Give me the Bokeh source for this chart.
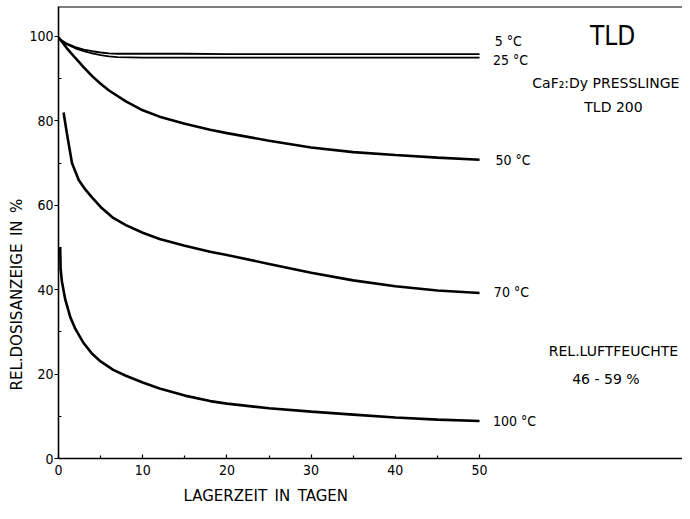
from bokeh.plotting import figure
from bokeh.models import Range1d, FixedTicker, Label, Span, Title
from bokeh.embed import file_html
from bokeh.resources import INLINE

# ---- data ----
days_5 = [0, 1, 2, 3, 4, 5, 6, 7, 10, 15, 20, 30, 40, 50]
vals_5 = [99.6, 98.3, 97.5, 96.9, 96.5, 96.2, 96.0, 95.9, 95.9, 95.9, 95.8, 95.8, 95.8, 95.8]

days_25 = [0, 1, 2, 3, 4, 5, 6, 7, 10, 15, 20, 30, 40, 50]
vals_25 = [99.6, 98.1, 97.2, 96.5, 96.0, 95.6, 95.3, 95.1, 95.0, 95.0, 95.0, 95.0, 95.0, 95.0]

days_50 = [0, 1, 2, 3, 4, 5, 6, 8, 10, 12, 15, 18, 20, 25, 30, 35, 40, 45, 50]
vals_50 = [99.8, 97.2, 94.9, 92.7, 90.6, 88.8, 87.2, 84.6, 82.5, 81.0, 79.3, 77.9, 77.1, 75.3, 73.7, 72.6, 71.9, 71.3, 70.8]

days_70 = [0.6, 1.0, 1.6, 2.4, 3.2, 4, 5, 6.5, 8, 10, 12, 15, 18, 20, 25, 30, 35, 40, 45, 50]
vals_70 = [82, 77, 70, 66, 63.7, 61.8, 59.6, 57, 55.3, 53.5, 52, 50.4, 49, 48.2, 46.1, 44, 42.2, 40.8, 39.8, 39.2]

days_100 = [0.2, 0.25, 0.4, 0.8, 1.4, 2, 3, 4, 5, 6.5, 8, 10, 12, 15, 18, 20, 25, 30, 35, 40, 45, 50]
vals_100 = [50, 45, 42, 37.7, 33.5, 30.7, 27.3, 24.8, 23, 21, 19.6, 18, 16.6, 14.9, 13.6, 13, 11.9, 11.1, 10.4, 9.7, 9.2, 8.9]

x_ticks = [0, 10, 20, 30, 40, 50]
x_minor = [5, 15, 25, 35, 45]
y_ticks = [0, 20, 40, 60, 80, 100]
y_minor = [10, 30, 50, 70, 90]

curve_labels = ["5 °C", "25 °C", "50 °C", "70 °C", "100 °C"]

FONT = "DejaVu Sans Condensed, Roboto, sans-serif"
FONT_W = "DejaVu Sans, sans-serif"
X_END = 74.1
Y_END = 107.1
SP = "\u2002"

p = figure(width=682, height=511, output_backend="svg", toolbar_location=None,
           x_range=Range1d(0, X_END), y_range=Range1d(0, Y_END),
           min_border_left=58, min_border_right=0, min_border_top=6, min_border_bottom=51)
p.outline_line_color = None
p.grid.visible = False
p.background_fill_color = "white"
p.border_fill_color = "white"

# axes
p.xaxis.ticker = FixedTicker(ticks=x_ticks, minor_ticks=x_minor)
p.yaxis.ticker = FixedTicker(ticks=y_ticks, minor_ticks=y_minor)
for ax in (p.xaxis, p.yaxis):
    ax.axis_line_color = "black"
    ax.axis_line_width = 1.6
    ax.major_tick_line_color = "black"
    ax.minor_tick_line_color = "black"
    ax.major_tick_line_width = 1.2
    ax.minor_tick_line_width = 1.2
    ax.major_label_text_font = FONT
    ax.major_label_text_font_size = "14px"
    ax.major_label_text_color = "black"
p.xaxis.major_tick_in = 4
p.xaxis.major_tick_out = 0
p.xaxis.minor_tick_in = 3
p.xaxis.minor_tick_out = 0
p.xaxis.major_label_standoff = 6
p.yaxis.major_tick_in = 0
p.yaxis.major_tick_out = 4
p.yaxis.minor_tick_in = 3
p.yaxis.minor_tick_out = 0
p.yaxis.major_label_standoff = 1

# axis titles (side-panel titles so they can sit off-centre like the reference)
p.add_layout(Title(text=f"LAGERZEIT{SP}IN{SP}TAGEN", text_font=FONT_W, text_font_size="15px",
                   text_font_style="normal", text_color="black",
                   align="left", offset=125, standoff=14), "below")
p.add_layout(Title(text=f"REL.DOSISANZEIGE{SP}IN{SP}%", text_font=FONT_W, text_font_size="15px",
                   text_font_style="normal", text_color="black",
                   align="left", offset=68, standoff=2), "left")

# top frame line
p.add_layout(Span(location=Y_END, dimension="width", line_color="black", line_width=2))

# curves
p.line(days_5, vals_5, line_color="black", line_width=1.8)
p.line(days_25, vals_25, line_color="black", line_width=1.8)
p.line(days_50, vals_50, line_color="black", line_width=2.6)
p.line(days_70, vals_70, line_color="black", line_width=2.6)
p.line(days_100, vals_100, line_color="black", line_width=2.6)

# curve labels
label_pos = [(51.8, 99.0), (51.6, 94.4), (51.9, 70.8), (51.7, 39.4), (51.6, 8.8)]
for txt, (lx, ly) in zip(curve_labels, label_pos):
    p.add_layout(Label(x=lx, y=ly, text=txt, text_font=FONT, text_font_size="14px",
                       text_baseline="middle", text_align="left", text_color="black"))

# annotations
def note(x, y, txt, font, size, align="center"):
    p.add_layout(Label(x=x, y=y, text=txt, text_font=font, text_font_size=size,
                       text_baseline="middle", text_align=align, text_color="black"))

note(65.8, 100.0, "TLD", FONT, "26px")
note(65.0, 88.9, "CaF₂:Dy PRESSLINGE", FONT_W, "14px")
note(65.9, 83.2, "TLD 200", FONT_W, "14px")
note(65.9, 25.5, "REL.LUFTFEUCHTE", FONT_W, "14px")
note(65.0, 18.9, "46 - 59 %", FONT_W, "14px")

open("out.html", "w").write(file_html(p, INLINE))
